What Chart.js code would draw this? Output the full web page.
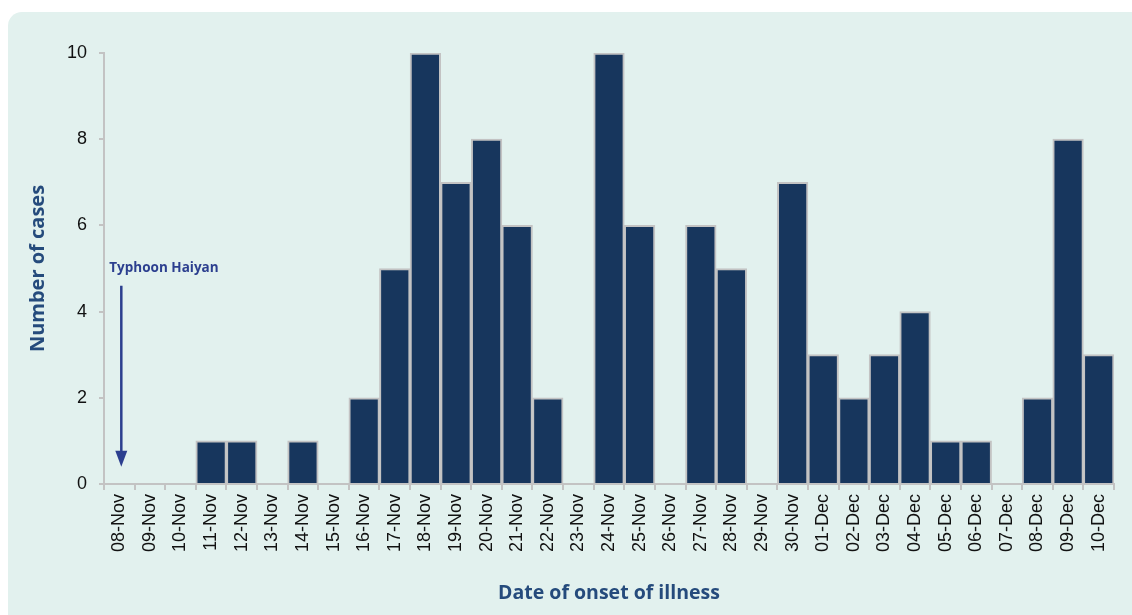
<!DOCTYPE html>
<html>
<head>
<meta charset="utf-8">
<script src="https://cdn.jsdelivr.net/npm/chart.js@4"></script>
<style>
  html, body { margin: 0; padding: 0; background: #fff; overflow: hidden; }
  #panel {
    position: absolute; left: 8px; top: 12px; width: 1150px; height: 640px;
    background: #e2f1ee; border-radius: 14px;
  }
  #wrap { position: absolute; left: 0; top: 0; width: 1132px; height: 615px; }
</style>
</head>
<body>
<div id="panel"></div>
<div id="wrap"><canvas id="chart"></canvas></div>
<script>
const dates = [
  '08-Nov', '09-Nov', '10-Nov', '11-Nov', '12-Nov', '13-Nov', '14-Nov', '15-Nov',
  '16-Nov', '17-Nov', '18-Nov', '19-Nov', '20-Nov', '21-Nov', '22-Nov', '23-Nov',
  '24-Nov', '25-Nov', '26-Nov', '27-Nov', '28-Nov', '29-Nov', '30-Nov',
  '01-Dec', '02-Dec', '03-Dec', '04-Dec', '05-Dec', '06-Dec', '07-Dec',
  '08-Dec', '09-Dec', '10-Dec'
];
const cases = [
  0, 0, 0, 1, 1, 0, 1, 0,
  2, 5, 10, 7, 8, 6, 2, 0,
  10, 6, 0, 6, 5, 0, 7,
  3, 2, 3, 4, 1, 1, 0,
  2, 8, 3
];
const yTicks = [0, 2, 4, 6, 8, 10];
const eventLabel = 'Typhoon Haiyan';
const eventDate = '08-Nov';

const axisGray = '#c3c3c3';
const titleBlue = '#254b7c';

// arrow marking the typhoon, placed on the category scale
const typhoonArrow = {
    id: 'typhoonArrow',
    afterDatasetsDraw(chart) {
        const ctx = chart.ctx;
        const x = chart.scales.x.getPixelForValue(dates.indexOf(eventDate)) + 2;
        const yTop = chart.scales.y.getPixelForValue(4.6);
        const yEnd = chart.scales.y.getPixelForValue(0.4);
        ctx.save();
        ctx.fillStyle = '#2c3f8f';
        ctx.strokeStyle = '#2c3f8f';
        ctx.font = 'bold 13.5px "Open Sans"';
        ctx.textBaseline = 'alphabetic';
        ctx.fillText(eventLabel, x - 12, yTop - 14);
        ctx.lineWidth = 2.5;
        ctx.beginPath();
        ctx.moveTo(x, yTop);
        ctx.lineTo(x, yEnd - 14);
        ctx.stroke();
        ctx.beginPath();
        ctx.moveTo(x - 6, yEnd - 16);
        ctx.lineTo(x + 6, yEnd - 16);
        ctx.lineTo(x, yEnd);
        ctx.closePath();
        ctx.fill();
        ctx.restore();
    }
};

new Chart(document.getElementById('chart'), {
    type: 'bar',
    data: {
        labels: dates,
        datasets: [{
            data: cases,
            backgroundColor: '#17365d',
            borderColor: axisGray,
            borderWidth: 2,
            borderSkipped: 'bottom',
            barPercentage: 1,
            categoryPercentage: 1
        }]
    },
    options: {
        responsive: true,
        maintainAspectRatio: false,
        animation: false,
        layout: { padding: { left: 20, right: 18, top: 53, bottom: 10 } },
        plugins: {
            legend: { display: false },
            tooltip: { enabled: false }
        },
        scales: {
            x: {
                offset: true,
                grid: {
                    offset: true,
                    drawOnChartArea: false,
                    color: axisGray,
                    lineWidth: 2,
                    tickLength: 6
                },
                border: { color: axisGray, width: 2 },
                ticks: {
                    color: '#111',
                    font: { family: 'Liberation Sans', size: 18 },
                    minRotation: 90,
                    maxRotation: 90,
                    autoSkip: false,
                    padding: 4
                },
                title: {
                    display: true,
                    text: 'Date of onset of illness',
                    color: titleBlue,
                    font: { family: 'Open Sans', size: 19.5, weight: 'bold' },
                    padding: { top: 8, bottom: 0 }
                },
                afterFit(scale) { scale.height = 121; }
            },
            y: {
                min: 0,
                max: 10,
                afterBuildTicks(scale) { scale.ticks = yTicks.map(v => ({ value: v })); },
                grid: {
                    drawOnChartArea: false,
                    color: axisGray,
                    lineWidth: 2,
                    tickLength: 5
                },
                border: { color: axisGray, width: 2 },
                ticks: {
                    color: '#111',
                    font: { family: 'Liberation Sans', size: 18 },
                    padding: 12
                },
                title: {
                    display: true,
                    text: 'Number of cases',
                    color: titleBlue,
                    font: { family: 'Open Sans', size: 20, weight: 'bold' },
                    padding: { top: 6, bottom: 0 }
                },
                afterFit(scale) { scale.width = 84; }
            }
        }
    },
    plugins: [typhoonArrow]
});
</script>
</body>
</html>
